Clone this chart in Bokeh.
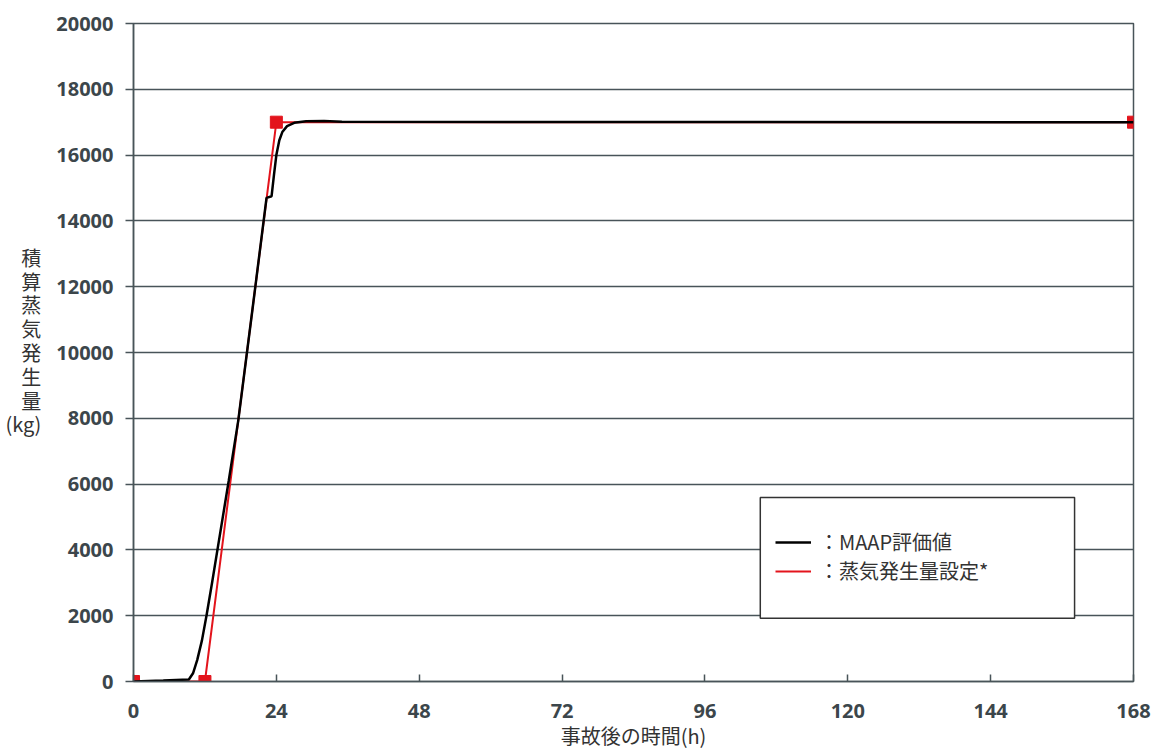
from bokeh.plotting import figure
from bokeh.models import Range1d, FixedTicker, Legend, LegendItem, BoxAnnotation
from bokeh.embed import file_html
from bokeh.resources import INLINE

# ---- data ----
x_ticks = [0, 24, 48, 72, 96, 120, 144, 168]
y_ticks = list(range(0, 20001, 2000))

maap_t = [0, 5, 9.3, 10.0, 10.7, 11.5, 12.26, 13.2, 14.1, 16.0, 17.6, 20.0, 22.35,
          23.2, 23.6, 24.0, 24.5, 25.0, 25.8, 27.0, 29.0, 32.0, 35.0, 168]
maap_v = [0, 30, 60, 250, 650, 1250, 2000, 3000, 4000, 6100, 7930, 11330, 14700,
          14750, 15400, 16000, 16450, 16700, 16880, 16980, 17030, 17040, 17010, 17000]

set_t = [0, 12, 24, 168]
set_v = [0, 0, 17000, 17000]

legend_labels = ["：MAAP評価値", "：蒸気発生量設定*"]
y_title_chars = "積算蒸気発生量"
y_unit = "(kg)"
x_title = "事故後の時間(h)"

GRID = "#485459"
TXT = "#3c464b"
RED = "#e3141c"

p = figure(width=1151, height=762, output_backend="svg", toolbar_location=None,
           x_range=Range1d(0, 168), y_range=Range1d(0, 20000),
           min_border_left=133, min_border_right=18, min_border_top=23, min_border_bottom=81)
p.background_fill_color = "white"
p.border_fill_color = "white"
p.outline_line_color = GRID
p.outline_line_width = 1.5

p.xaxis.ticker = FixedTicker(ticks=x_ticks)
p.yaxis.ticker = FixedTicker(ticks=y_ticks)
p.xgrid.grid_line_color = None
p.ygrid.grid_line_color = GRID
p.ygrid.grid_line_width = 1.5

for ax in (p.xaxis, p.yaxis):
    ax.axis_line_color = GRID
    ax.axis_line_width = 1.5
    ax.major_tick_line_color = GRID
    ax.major_tick_line_width = 1.5
    ax.minor_tick_line_color = None
    ax.major_label_text_font = "Open Sans"
    ax.major_label_text_font_style = "bold"
    ax.major_label_text_font_size = "20px"
    ax.major_label_text_color = TXT
    ax.axis_label_text_font = "Noto Sans CJK JP"
    ax.axis_label_text_font_style = "normal"
    ax.axis_label_text_color = "#333333"

p.xaxis.major_tick_in = 7
p.xaxis.major_tick_out = 0
p.xaxis.major_label_standoff = 22
p.xaxis.axis_label = x_title
p.xaxis.axis_label_standoff = 0
p.xaxis.axis_label_text_font_size = "20px"

p.yaxis.major_tick_in = 0
p.yaxis.major_tick_out = 8
p.yaxis.major_label_standoff = 12
p.yaxis.axis_label = "\n".join(list(y_title_chars) + [y_unit, " "])
p.yaxis.axis_label_orientation = "horizontal"
p.yaxis.axis_label_text_align = "center"
p.yaxis.axis_label_standoff = 12
p.yaxis.axis_label_text_font_size = "20px"
p.yaxis.axis_label_text_line_height = 0.82

r_set = p.line(set_t, set_v, line_color=RED, line_width=2)
p.scatter(set_t, set_v, marker="square", size=12, fill_color=RED, line_color=RED)
r_maap = p.line(maap_t, maap_v, line_color="black", line_width=2.5)

# legend box
box = BoxAnnotation(left=105.3, right=158.1, top=5590, bottom=1920,
                    fill_color="white", fill_alpha=1.0,
                    line_color="#333333", line_alpha=1.0, line_width=1.5, level="overlay")
p.add_layout(box)

legend = Legend(items=[LegendItem(label=legend_labels[0], renderers=[r_maap]),
                       LegendItem(label=legend_labels[1], renderers=[r_set])],
                location=(642, 96), padding=0, margin=0, spacing=0,
                glyph_width=36, glyph_height=20, label_height=20, label_standoff=8,
                border_line_color=None, background_fill_alpha=0,
                label_text_font="Noto Sans CJK JP", label_text_font_size="20px",
                label_text_color="#333333")
p.add_layout(legend, "center")

open("out.html", "w").write(file_html(p, INLINE))
